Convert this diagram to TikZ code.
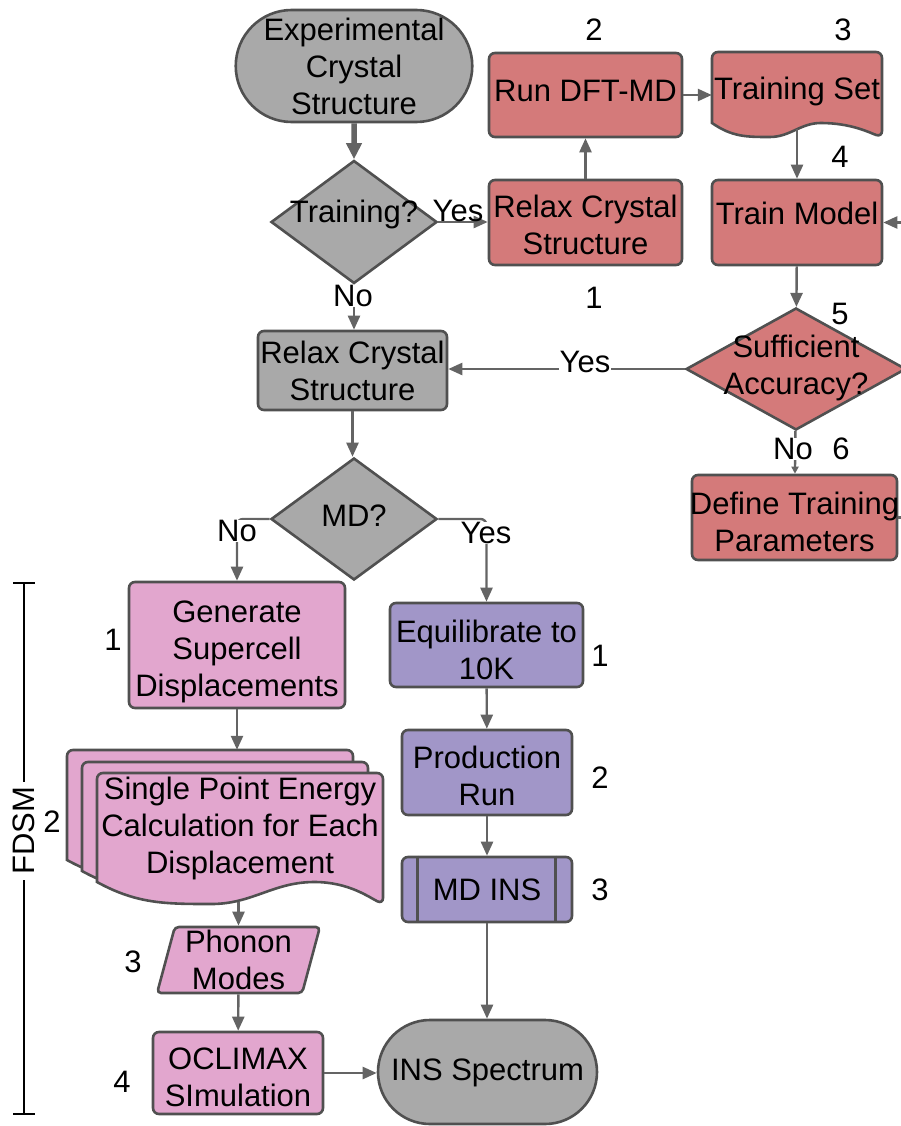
\documentclass[tikz,border=0pt]{standalone}
\usepackage{fontspec}
\setmainfont{Liberation Sans}
\usetikzlibrary{shapes.geometric,shapes.misc,arrows.meta,calc}
\definecolor{gfill}{RGB}{169,169,169}
\definecolor{rfill}{RGB}{212,122,122}
\definecolor{pfill}{RGB}{226,166,206}
\definecolor{vfill}{RGB}{161,150,200}
\definecolor{edgec}{RGB}{80,80,80}
\definecolor{arrc}{RGB}{100,100,100}
% #1 style, #2 x0, #3 x1, #4 top, #5 bottom-left y, #6 wave depth, #7 trough fraction, #8 peak fraction
\newcommand{\docshape}[8]{%
  \path[#1, rounded corners=6pt] (#2,#5) -- (#2,#4) -- (#3,#4) -- (#3,{#5+#6}) [sharp corners]
    .. controls ({#2+(#8+0.8*(1-#8))*(#3-#2)},{#5+0.7*#6}) and ({#2+(#8+0.5*(1-#8))*(#3-#2)},#5) .. ({#2+#8*(#3-#2)},#5)
    .. controls ({#2+(#8-0.4*(#8-#7))*(#3-#2)},#5) and ({#2+(#7+0.4*(#8-#7))*(#3-#2)},{#5+#6}) .. ({#2+#7*(#3-#2)},{#5+#6})
    .. controls ({#2+0.6*#7*(#3-#2)},{#5+#6}) and ({#2+0.35*#7*(#3-#2)},{#5+#6}) .. (#2,#5) -- cycle;}
\begin{document}
\begin{tikzpicture}[x=1pt,y=-1pt,
  font=\fontsize{31}{37}\selectfont,
  base/.style={draw=edgec, line width=2.6pt, inner sep=0pt, align=center},
  box/.style={base, rectangle, rounded corners=6pt},
  term/.style={base, rounded rectangle, fill=gfill},
  dia/.style={base, diamond},
  doc/.style={draw=edgec, line width=2.6pt},
  hidden/.style={inner sep=0pt, align=center},
  flow/.style={draw=arrc, line width=2.4pt, -{Triangle[length=14pt,width=12pt]}},
  smallflow/.style={draw=arrc, line width=2.4pt, -{Triangle[length=7pt,width=7pt]}},
  thickflow/.style={draw=arrc, line width=5.5pt, -{Triangle[length=16pt,width=15pt]}},
  lbl/.style={fill=white, inner sep=0.5pt},
  lblnf/.style={inner sep=0.5pt},
  num/.style={inner sep=0pt},
]
\useasboundingbox (0,0) rectangle (901,1126);

% ---- document-like shapes (drawn first) ----
\docshape{doc, fill=rfill}{712}{882}{52}{123}{14}{0.34}{0.64}
\docshape{doc, fill=pfill}{67}{353}{750}{860}{22}{0.4}{0.76}
\docshape{doc, fill=pfill}{82}{368}{762}{871}{22}{0.4}{0.76}
\docshape{doc, fill=pfill}{97}{383}{773}{882}{22}{0.4}{0.76}

% ---- nodes ----
\node[term, minimum width=222pt, minimum height=112pt] (exp) at (354,66) {Experimental\\Crystal\\Structure};
\node[dia, fill=gfill, minimum width=166pt, minimum height=123pt] (trq) at (354,222) {};
\node[hidden] (trqt) at (354,214) {Training?};

\node[box, fill=rfill, minimum width=193pt, minimum height=85pt] (relaxr) at (585.5,222.5) {};
\node[hidden] (relaxrt) at (585.5,225) {Relax Crystal\\Structure};
\node[box, fill=rfill, minimum width=193pt, minimum height=84pt] (rundft) at (585.5,95) {};
\node[hidden] (rundftt) at (585.5,91) {Run DFT-MD};
\node[hidden, minimum width=170pt, minimum height=80pt] (tset) at (797,92) {};
\node[hidden] (tsett) at (797,91) {Training Set};
\node[box, fill=rfill, minimum width=170pt, minimum height=85pt] (tm) at (797,222.5) {};
\node[hidden] (tmt) at (797,213) {Train Model};
\node[dia, fill=rfill, minimum width=220pt, minimum height=122pt] (suff) at (796,369) {};
\node[hidden] (sufft) at (796,368) {Sufficient\\Accuracy?};
\node[box, fill=rfill, minimum width=205pt, minimum height=85pt] (def) at (794.5,517.5) {};
\node[hidden] (deft) at (794.5,522) {Define Training\\Parameters};

\node[box, fill=gfill, minimum width=189pt, minimum height=79pt] (relaxg) at (352.5,370.5) {Relax Crystal\\Structure};
\node[dia, fill=gfill, minimum width=166pt, minimum height=122pt] (md) at (354,519) {};
\node[hidden] (mdt) at (354,516) {MD?};

\node[box, fill=pfill, minimum width=216pt, minimum height=126pt] (gen) at (237,645) {};
\node[hidden] (gent) at (237,652) {Generate\\Supercell\\Displacements};
\node[hidden, minimum width=316pt, minimum height=152pt] (spe) at (225,826) {};
\node[hidden] (spet) at (240,828) {Single Point Energy\\Calculation for Each\\Displacement};
\node[base, trapezium, trapezium left angle=76, trapezium right angle=104, trapezium stretches=true,
      minimum width=163pt, minimum height=66pt, rounded corners=4pt, fill=pfill] (phon) at (238.5,960) {Phonon\\Modes};
\node[box, fill=pfill, minimum width=170pt, minimum height=82pt] (ocl) at (238,1073) {};
\node[hidden] (oclt) at (238,1077) {OCLIMAX\\SImulation};
\node[term, minimum width=219pt, minimum height=104pt] (ins) at (487.5,1072) {};
\node[hidden] (inst) at (487.5,1073) {INS Spectrum};

\node[box, fill=vfill, minimum width=193pt, minimum height=84pt] (equ) at (486.5,645) {};
\node[hidden] (equt) at (486.5,650) {Equilibrate to\\10K};
\node[box, fill=vfill, minimum width=170pt, minimum height=85pt] (prod) at (487,772.5) {};
\node[hidden] (prodt) at (487,776) {Production\\Run};
\node[box, fill=vfill, minimum width=170pt, minimum height=65pt] (mdins) at (487,889.5) {MD INS};
\draw[draw=edgec, line width=2.6pt] ([xshift=17pt]mdins.north west) -- ([xshift=17pt]mdins.south west);
\draw[draw=edgec, line width=2.6pt] ([xshift=-18pt]mdins.north east) -- ([xshift=-18pt]mdins.south east);

% ---- connectors ----
\draw[thickflow] (exp) -- (trq);
\draw[flow] (trq.east) -- (trq.east -| relaxr.west);
\draw[flow] (relaxr) -- (rundft);
\draw[flow] (rundft.east) -- (rundft.east -| tset.west);
\draw[flow] ([yshift=3pt]tset.south) -- (tm.north);
\draw[flow] (tm) -- (suff);
\draw[flow] (suff.west) -- (suff.west -| relaxg.east);
\draw[smallflow] (suff) -- (def);
\begin{scope}
  \clip (0,0) rectangle (901,1126);
  \draw[flow] (def.east) -- ++(20,0) |- (tm.east);
\end{scope}
\draw[flow] (trq.south) -- (trq.south |- relaxg.north);
\draw[flow] (relaxg.south) -- (relaxg.south |- md.north);
\draw[flow, rounded corners=6pt] (md.west) -| (gen.north);
\draw[flow, rounded corners=6pt] (md.east) -| (equ.north);
\draw[flow] (gen.south) -- (gen.south |- spe.north);
\draw[flow] (spe.south -| phon.north) -- (phon.north);
\draw[flow] (phon) -- (ocl);
\draw[flow] (ocl.east) -- (ocl.east -| ins.west);
\draw[flow] (equ) -- (prod);
\draw[flow] (prod) -- (mdins);
\draw[flow] (mdins.south) -- (mdins.south |- ins.north);

% ---- branch labels ----
\node[lblnf] (yes1) at (458,211) {Yes};
\node[lbl] (no1) at (353,296) {No};
\node[lbl] (yes2) at (585,362) {Yes};
\node[lbl] (no2) at (793,449) {No};
\node[lbl] (no3) at (237,531) {No};
\node[lbl] (yes3) at (486,533) {Yes};

% ---- step numbers ----
\node[num] (r1) at (594,298) {1};
\node[num] (r2) at (594,30) {2};
\node[num] (r3) at (843,30) {3};
\node[num] (r4) at (840,157) {4};
\node[num] (r5) at (840,314) {5};
\node[num] (r6) at (841,449) {6};
\node[num] (p1) at (113,640) {1};
\node[num] (p2) at (52,822) {2};
\node[num] (p3) at (133,962) {3};
\node[num] (p4) at (122,1082) {4};
\node[num] (v1) at (600,656) {1};
\node[num] (v2) at (600,778) {2};
\node[num] (v3) at (600,890) {3};

% ---- FDSM bracket ----
\coordinate (bt) at (24,583);
\coordinate (bb) at (24,1114);
\draw[black, line width=2.4pt] ([xshift=-11pt]bt) -- ([xshift=11pt]bt);
\draw[black, line width=2.4pt] ([xshift=-11pt]bb) -- ([xshift=11pt]bb);
\draw[black, line width=2.4pt] (bt) -- (bb);
\node[fill=white, inner sep=5pt, rotate=90] (fdsm) at (24,831) {FDSM};
\end{tikzpicture}
\end{document}
